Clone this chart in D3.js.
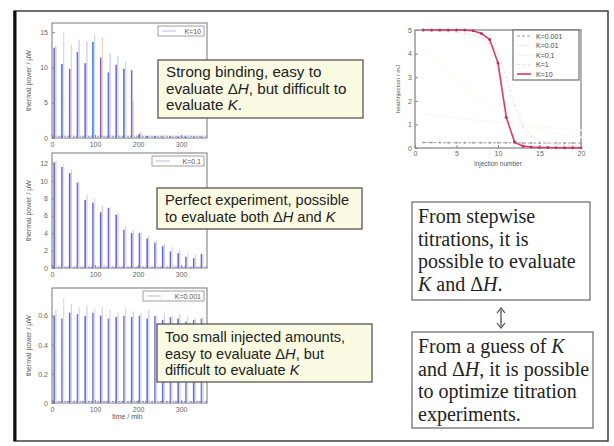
<!DOCTYPE html>
<html>
<head>
<meta charset="utf-8">
<script src="https://cdn.jsdelivr.net/npm/d3@7/dist/d3.min.js"></script>
<style>
  body { margin: 0; background: #fff; }
  .tick text { fill: #666; }
  .tick line { stroke: #888; }
</style>
</head>
<body>
<div id="chart"></div>
<script>
// injection times in the thermograms (min)
const injTimes = [5, 23, 41, 59, 77, 95, 113, 131, 149, 167, 185, 203, 221, 239, 257, 275, 293, 311, 329, 347]
const timeTicks = [0, 100, 200, 300]

// K=10 thermogram peaks (uW)
const peaksK10 = [12.8, 10.5, 9.8, 12.2, 10.6, 13.6, 11.4, 9.3, 10.4, 9.8, 9.6, 0.6, 0.3, 0.3, 0.2, 0.2, 0.2, 0.2, 0.2, 0.2]
const ghostK10 = [13.1, 15.0, 13.2, 13.9, 13.7, 14.7, 14.3, 12.0, 11.6, 10.8, 5.2, 0.8, 0.4, 0.3, 0.3, 0.3, 0.3, 0.3, 0.3, 0.3]
// K=0.1 thermogram peaks
const peaksK01 = [12.1, 11.6, 10.9, 9.8, 7.8, 7.5, 6.4, 6.9, 6.1, 4.4, 4.0, 4.0, 3.4, 2.9, 2.5, 1.9, 1.7, 1.3, 1.1, 1.6]
const ghostK01 = [12.3, 11.9, 11.3, 10.0, 8.4, 8.0, 7.2, 7.0, 6.3, 4.8, 4.4, 4.2, 3.7, 3.2, 2.8, 2.4, 2.1, 1.7, 1.5, 1.6]
// K=0.001 thermogram peaks
const peaksK0001 = [0.60, 0.58, 0.62, 0.61, 0.60, 0.62, 0.60, 0.58, 0.59, 0.60, 0.59, 0.60, 0.58, 0.60, 0.57, 0.59, 0.58, 0.56, 0.57, 0.58]
const ghostK0001 = [0.64, 0.72, 0.68, 0.66, 0.67, 0.65, 0.66, 0.64, 0.62, 0.66, 0.63, 0.62, 0.64, 0.60, 0.62, 0.60, 0.61, 0.60, 0.58, 0.59]

// heat per injection (mJ)
const injNumber = [1, 2, 3, 4, 5, 6, 7, 8, 9, 10, 11, 12, 13, 14, 15, 16, 17, 18, 19, 20]
const heatK0001 = [0.23, 0.23, 0.23, 0.22, 0.22, 0.22, 0.22, 0.22, 0.22, 0.22, 0.22, 0.22, 0.21, 0.21, 0.21, 0.21, 0.21, 0.21, 0.21, 0.21]
const heatK001 = [1.45, 1.4, 1.36, 1.32, 1.28, 1.24, 1.2, 1.16, 1.12, 1.08, 1.04, 1.0, 0.97, 0.94, 0.9, 0.87, 0.84, 0.81, 0.78, 0.75]
const heatK01 = [4.3, 4.0, 3.7, 3.3, 2.9, 2.6, 2.3, 2.0, 1.75, 1.5, 1.3, 1.15, 1.0, 0.9, 0.8, 0.7, 0.62, 0.56, 0.5, 0.46]
const heatK1 = [4.98, 4.97, 4.95, 4.93, 4.9, 4.85, 4.78, 4.66, 4.45, 4.0, 3.0, 1.8, 0.9, 0.5, 0.32, 0.22, 0.16, 0.12, 0.1, 0.08]
const heatK10 = [5, 5, 5, 5, 5, 5, 4.97, 4.85, 4.6, 3.6, 1.3, 0.25, 0.08, 0.04, 0.02, 0.02, 0.01, 0.01, 0.01, 0.01]

const sans = "'Liberation Sans', Arial, sans-serif"
const serif = "'Liberation Serif', 'Times New Roman', serif"

const svg = d3.select("#chart").append("svg")
    .attr("width", 614)
    .attr("height", 446)
    .style("font-family", sans)

svg.append("rect").attr("width", 614).attr("height", 446).attr("fill", "#fff")

// slide frame
svg.append("rect")
    .attr("x", 14).attr("y", 11).attr("width", 594).attr("height", 430)
    .attr("fill", "none").attr("stroke", "#333").attr("stroke-width", 1.4)
svg.append("line")
    .attr("x1", 15).attr("x2", 15).attr("y1", 11).attr("y2", 441)
    .attr("stroke", "#111").attr("stroke-width", 3)

// ---- thermograms ----
const thermo = (cfg) => {
    const x = d3.scaleLinear().domain([0, 360]).range([52, 207])
    const y = d3.scaleLinear().domain([0, cfg.ymax]).range([cfg.bottom, cfg.top])
    const g = svg.append("g")

    g.append("rect")
        .attr("x", x(0)).attr("y", y(cfg.ymax))
        .attr("width", x(360) - x(0)).attr("height", y(0) - y(cfg.ymax))
        .attr("fill", "#fff").attr("stroke", "#777").attr("stroke-width", 1)

    // baseline
    g.append("line")
        .attr("x1", x(0)).attr("x2", x(360))
        .attr("y1", y(cfg.base)).attr("y2", y(cfg.base))
        .attr("stroke", "#8a8fe0").attr("stroke-width", 1).attr("stroke-dasharray", "2,1")

    // ghost peaks
    g.selectAll("line.ghost")
        .data(cfg.ghost)
        .join("line")
        .attr("class", "ghost")
        .attr("x1", (d, i) => x(injTimes[i] + 4)).attr("x2", (d, i) => x(injTimes[i] + 4))
        .attr("y1", y(0)).attr("y2", d => y(d))
        .attr("stroke", (d, i) => cfg.ghostColors[i % cfg.ghostColors.length])
        .attr("stroke-width", 1.3)

    // main peaks
    g.selectAll("line.peak")
        .data(cfg.peaks)
        .join("line")
        .attr("class", "peak")
        .attr("x1", (d, i) => x(injTimes[i])).attr("x2", (d, i) => x(injTimes[i]))
        .attr("y1", y(0)).attr("y2", d => y(d))
        .attr("stroke", (d, i) => cfg.colors[i % cfg.colors.length])
        .attr("stroke-width", 1.5)

    g.append("g")
        .attr("transform", "translate(0," + y(0) + ")")
        .call(d3.axisBottom(x).tickValues(timeTicks).tickSize(-3).tickPadding(4))
        .call(a => a.select(".domain").remove())
        .selectAll("text").style("font-size", "7px").style("font-family", sans)

    g.append("g")
        .attr("transform", "translate(" + x(0) + ",0)")
        .call(d3.axisLeft(y).tickValues(cfg.yticks).tickSize(-3).tickPadding(4).tickFormat(cfg.fmt))
        .call(a => a.select(".domain").remove())
        .selectAll("text").style("font-size", "7px").style("font-family", sans)

    g.append("text")
        .attr("transform", "translate(31," + ((y(0) + y(cfg.ymax)) / 2) + ") rotate(-90)")
        .attr("text-anchor", "middle")
        .style("font-size", "7px").attr("fill", "#555")
        .text("thermal power / µW")

    // legend
    const lg = g.append("g")
    lg.append("rect")
        .attr("x", cfg.legendX).attr("y", y(cfg.ymax) + 3)
        .attr("width", 204 - cfg.legendX).attr("height", 10)
        .attr("fill", "#fff").attr("stroke", "#888").attr("stroke-width", 0.8)
    lg.append("line")
        .attr("x1", cfg.legendX + 4).attr("x2", cfg.legendX + 18)
        .attr("y1", y(cfg.ymax) + 8).attr("y2", y(cfg.ymax) + 8)
        .attr("stroke", "#b8bce8").attr("stroke-width", 1)
    lg.append("text")
        .attr("x", 201).attr("y", y(cfg.ymax) + 10.5)
        .attr("text-anchor", "end")
        .style("font-size", "7px").attr("fill", "#555")
        .text(cfg.label)

    if (cfg.xlabel) {
        g.append("text")
            .attr("x", x(175)).attr("y", y(0) + 16)
            .attr("text-anchor", "middle")
            .style("font-size", "7px").attr("fill", "#555")
            .text("time / min")
    }
}

thermo({ top: 23, bottom: 138, ymax: 16.3, yticks: [0, 5, 10, 15], fmt: d3.format("d"), base: 0.25,
    peaks: peaksK10, ghost: ghostK10, label: "K=10", legendX: 158,
    colors: ["#6a64d8", "#4f6ad8", "#8a5ccf", "#5a78e0"], ghostColors: ["#c9cbee", "#bfe6ee", "#f0d6b8", "#d9c7ee"] })
thermo({ top: 153, bottom: 268, ymax: 13.2, yticks: [0, 2, 4, 6, 8, 10, 12], fmt: d3.format("d"), base: 0.1,
    peaks: peaksK01, ghost: ghostK01, label: "K=0.1", legendX: 152,
    colors: ["#5c62dc", "#7468d6"], ghostColors: ["#cfd0ee", "#dcdcec"] })
thermo({ top: 288, bottom: 403, ymax: 0.79, yticks: [0, 0.2, 0.4, 0.6], fmt: d => d === 0 ? "0" : d3.format(".1f")(d), base: 0.01,
    peaks: peaksK0001, ghost: ghostK0001, label: "K=0.001", legendX: 143, xlabel: true,
    colors: ["#6068da", "#7a76d4"], ghostColors: ["#d2d3ee", "#dcdcec"] })

// ---- heat per injection ----
{
    const x = d3.scaleLinear().domain([0, 20]).range([415, 581])
    const y = d3.scaleLinear().domain([0, 5]).range([148, 30])
    const g = svg.append("g")

    g.append("rect")
        .attr("x", x(0)).attr("y", y(5)).attr("width", x(20) - x(0)).attr("height", y(0) - y(5))
        .attr("fill", "#fff").attr("stroke", "#666").attr("stroke-width", 1)

    const series = [
        { name: "K=0.001", values: heatK0001, color: "#9a9a9a", dash: "3,2", width: 1 },
        { name: "K=0.01", values: heatK001, color: "#f8f9f5", dash: null, width: 1 },
        { name: "K=0.1", values: heatK01, color: "#fbfaf0", dash: null, width: 1 },
        { name: "K=1", values: heatK1, color: "#f7dce1", dash: "3,2", width: 1 },
        { name: "K=10", values: heatK10, color: "#e23a5c", dash: null, width: 1.6 }
    ]
    const line = d3.line()
        .x((d, i) => x(injNumber[i]))
        .y(d => y(d))

    series.forEach(s => {
        g.append("path")
            .attr("d", line(s.values))
            .attr("fill", "none").attr("stroke", s.color)
            .attr("stroke-width", s.width)
            .attr("stroke-dasharray", s.dash)
        g.selectAll(null)
            .data(s.values)
            .join("circle")
            .attr("cx", (d, i) => x(injNumber[i])).attr("cy", d => y(d))
            .attr("r", s.name === "K=10" ? 1.5 : 1)
            .attr("fill", s.name === "K=10" ? "#a83a66" : s.color)
    })

    g.append("g")
        .attr("transform", "translate(0," + y(0) + ")")
        .call(d3.axisBottom(x).tickValues([0, 5, 10, 15, 20]).tickSize(-3).tickPadding(3))
        .call(a => a.select(".domain").remove())
        .selectAll("text").style("font-size", "7px").style("font-family", sans)
    g.append("g")
        .attr("transform", "translate(" + x(0) + ",0)")
        .call(d3.axisLeft(y).tickValues([0, 1, 2, 3, 4, 5]).tickSize(-3).tickPadding(3).tickFormat(d3.format("d")))
        .call(a => a.select(".domain").remove())
        .selectAll("text").style("font-size", "7px").style("font-family", sans)

    g.append("text")
        .attr("x", (x(0) + x(20)) / 2).attr("y", 166)
        .attr("text-anchor", "middle")
        .style("font-size", "6.5px").attr("fill", "#555")
        .text("injection number")
    g.append("text")
        .attr("transform", "translate(400," + ((y(0) + y(5)) / 2) + ") rotate(-90)")
        .attr("text-anchor", "middle")
        .style("font-size", "6px").attr("fill", "#555")
        .text("heat/injection / mJ")

    // legend
    const lx = 513, ly = 30
    g.append("rect")
        .attr("x", lx).attr("y", ly).attr("width", 66).attr("height", 50)
        .attr("fill", "#fff").attr("stroke", "#555").attr("stroke-width", 1)
    series.forEach((s, i) => {
        const yy = ly + 6 + i * 9.5
        g.append("line")
            .attr("x1", lx + 4).attr("x2", lx + 18).attr("y1", yy).attr("y2", yy)
            .attr("stroke", s.name === "K=0.01" || s.name === "K=0.1" ? "#eeeeee" : s.color)
            .attr("stroke-dasharray", s.dash).attr("stroke-width", s.width)
        g.append("text")
            .attr("x", lx + 23).attr("y", yy + 2.5)
            .style("font-size", "7px").attr("fill", "#444")
            .text(s.name)
    })
}

// ---- callout boxes ----
const callout = (x, y, w, h, size, first, step, lines) => {
    const g = svg.append("g")
    g.append("rect")
        .attr("x", x).attr("y", y).attr("width", w).attr("height", h)
        .attr("fill", "#fbfbe3").attr("stroke", "#555").attr("stroke-width", 1.3)
    lines.forEach((parts, i) => {
        const t = g.append("text")
            .attr("x", x + 8).attr("y", y + first + i * step)
            .style("font-size", size + "px").attr("fill", "#222")
        parts.forEach(p => {
            t.append("tspan").style("font-style", p.i ? "italic" : null).text(p.t)
        })
    })
}

callout(158, 60, 205, 58, 15.2, 17, 16.5, [
    [{ t: "Strong binding, easy to" }],
    [{ t: "evaluate Δ" }, { t: "H", i: true }, { t: ", but difficult to" }],
    [{ t: "evaluate " }, { t: "K", i: true }, { t: "." }]
])
callout(157, 188, 205, 41, 14.6, 17, 17, [
    [{ t: "Perfect experiment, possible" }],
    [{ t: "to evaluate both Δ" }, { t: "H", i: true }, { t: " and " }, { t: "K", i: true }]
])
callout(157, 324, 215, 58, 14.6, 18, 16.5, [
    [{ t: "Too small injected amounts," }],
    [{ t: "easy to evaluate Δ" }, { t: "H", i: true }, { t: ", but" }],
    [{ t: "difficult to evaluate " }, { t: "K", i: true }]
])

// ---- right text boxes ----
const textBox = (x, y, w, h, lines) => {
    const g = svg.append("g")
    g.append("rect")
        .attr("x", x).attr("y", y).attr("width", w).attr("height", h)
        .attr("fill", "#fff").attr("stroke", "#666").attr("stroke-width", 1.2)
    lines.forEach((parts, i) => {
        const t = g.append("text")
            .attr("x", x + 6).attr("y", y + 21 + i * 22.5)
            .style("font-family", serif).style("font-size", "20px").attr("fill", "#222")
        parts.forEach(p => {
            t.append("tspan").style("font-style", p.i ? "italic" : null).text(p.t)
        })
    })
}

textBox(412, 202, 178, 98, [
    [{ t: "From stepwise" }],
    [{ t: "titrations, it is" }],
    [{ t: "possible to evaluate" }],
    [{ t: "K", i: true }, { t: " and Δ" }, { t: "H", i: true }, { t: "." }]
])
textBox(412, 332, 181, 96, [
    [{ t: "From a guess of " }, { t: "K", i: true }],
    [{ t: "and Δ" }, { t: "H", i: true }, { t: ", it is possible" }],
    [{ t: "to optimize titration" }],
    [{ t: "experiments." }]
])

// double arrow between boxes
svg.append("line")
    .attr("x1", 501).attr("x2", 501).attr("y1", 310).attr("y2", 326)
    .attr("stroke", "#444").attr("stroke-width", 1.2)
svg.append("path").attr("d", "M497,313 L501,308 L505,313").attr("fill", "none").attr("stroke", "#444").attr("stroke-width", 1.2)
svg.append("path").attr("d", "M497,323 L501,328 L505,323").attr("fill", "none").attr("stroke", "#444").attr("stroke-width", 1.2)
</script>
</body>
</html>
